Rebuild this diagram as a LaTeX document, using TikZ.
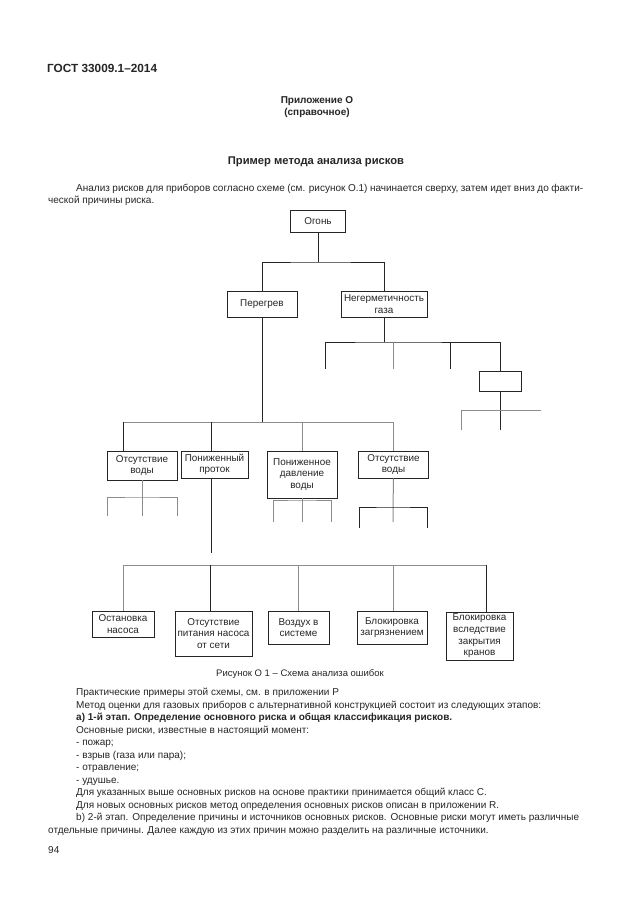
\documentclass[tikz,border=0pt]{standalone}
\usepackage{fontspec}
\setmainfont{Liberation Sans}
\usetikzlibrary{positioning}

\newcommand{\bodyfont}{\fontsize{10}{12.4}\selectfont}
\newcommand{\boxfont}{\fontsize{9.9}{11.6}\selectfont}

\tikzset{
  box/.style={draw=black!85, line width=0.9pt, align=center, inner sep=0pt, font=\boxfont, text=black!85},
  conn/.style={draw=black!85, line width=0.9pt},
  connlight/.style={draw=black!45, line width=1pt},
  txt/.style={anchor=base west, inner sep=0pt, font=\bodyfont, text=black!85}
}

\begin{document}
\begin{tikzpicture}[x=1pt,y=-1pt]
    \useasboundingbox [fill=white] (0,0) rectangle (630,913);
    % page text above the figure
    \node [txt, font=\fontsize{11.8}{14}\selectfont\bfseries] (gost) at (47,72) {ГОСТ 33009.1--2014};
    \node [txt, anchor=base, font=\fontsize{10}{12}\selectfont\bfseries] (annex) at (317,103) {Приложение О};
    \node [txt, anchor=base, font=\fontsize{10}{12}\selectfont\bfseries] (annexsub) at (317,115) {(справочное)};
    \node [txt, anchor=base, font=\fontsize{11.2}{14}\selectfont\bfseries] (title) at (316,164) {Пример метода анализа рисков};
    \node [txt] (intro1) at (76,191) {\makebox[507pt][s]{Анализ рисков для приборов согласно схеме (см. рисунок О.1) начинается сверху, затем идет вниз до факти-}};
    \node [txt] (intro2) at (48,203) {ческой причины риска.};

    % figure: boxes
    \node [box, minimum width=55, minimum height=22] (fire) at (318,221) {Огонь};
    \node [box, minimum width=70, minimum height=26] (heat) at (262,304) {Перегрев};
    \node [box, minimum width=86, minimum height=26] (leak) at (384,304) {Негерметичность\\газа};
    \node [box, minimum width=42, minimum height=20] (blank) at (500,381) {};
    \node [box, minimum width=70, minimum height=29] (dry1) at (142,465.5) {Отсутствие\\воды};
    \node [box, minimum width=67, minimum height=27] (flow) at (214.5,464.5) {Пониженный\\проток};
    \node [box, minimum width=70, minimum height=47] (press) at (302,474.5) {Пониженное\\давление\\воды};
    \node [box, minimum width=70, minimum height=27] (dry2) at (393.5,464.5) {Отсутствие\\воды};
    \node [box, minimum width=62, minimum height=26] (stop) at (123,624) {Остановка\\насоса};
    \node [box, minimum width=77, minimum height=45] (power) at (213.5,633.5) {Отсутствие\\питания насоса\\от сети};
    \node [box, minimum width=61, minimum height=33] (air) at (298.5,627.5) {Воздух в\\системе};
    \node [box, minimum width=70, minimum height=33] (clog) at (392,627.5) {Блокировка\\загрязнением};
    \node [box, minimum width=67, minimum height=48] (valve) at (479.5,636) {Блокировка\\вследствие\\закрытия\\кранов};

    % junctions and free ends
    \coordinate (busA) at (318,262);
    \coordinate (busB) at (384,342);
    \coordinate (s1) at (325,369);
    \coordinate (s2) at (393,369);
    \coordinate (s3) at (450,369);
    \coordinate (t1) at (461,430);
    \coordinate (t2) at (500,430);
    \coordinate (t3) at (541,410);
    \coordinate (busD) at (262,422);
    \coordinate (d1) at (123,422);
    \coordinate (d2) at (211,422);
    \coordinate (d3) at (302,422);
    \coordinate (d4) at (393,422);
    \coordinate (busE) at (142,497);
    \coordinate (e1) at (107,516);
    \coordinate (e2) at (142,516);
    \coordinate (e3) at (177,516);
    \coordinate (f1) at (211,553);
    \coordinate (busP) at (302,500);
    \coordinate (p1) at (273,522);
    \coordinate (p2) at (302,522);
    \coordinate (p3) at (331,522);
    \coordinate (busQ) at (393,507);
    \coordinate (q1) at (359,528);
    \coordinate (q2) at (393,522);
    \coordinate (q3) at (427,528);
    \coordinate (g1) at (123,565);
    \coordinate (g2) at (210,565);
    \coordinate (g3) at (298,565);
    \coordinate (g4) at (393,565);
    \coordinate (g5) at (486,565);

    % connectors
    \draw [conn] (fire) -- (busA);
    \draw [conn] (heat.north) |- (busA) -| (leak.north);
    \draw [conn] (leak) -- (busB);
    \draw [conn] (s1) |- (busB) -| (blank.north);
    \draw [connlight] (s2) -- (s2 |- busB);
    \draw [conn] (s3) -- (s3 |- busB);
    \draw [conn] (blank) -- (t2);
    \draw [connlight] (t1) |- (t3);
    \draw [conn] (heat) -- (busD);
    \draw [connlight] (d1) -- (d4);
    \draw [conn] (d1) -- (d1 |- dry1.north);
    \draw [conn] (d2) -- (d2 |- flow.north);
    \draw [connlight] (d3) -- (press.north);
    \draw [connlight] (d4) -- (d4 |- dry2.north);
    \draw [connlight] (dry1) -- (e2);
    \draw [connlight] (e1) |- (busE) -| (e3);
    \draw [conn] (f1 |- flow.south) -- (f1);
    \draw [connlight] (press) -- (p2);
    \draw [connlight] (p1) |- (busP) -| (p3);
    \draw [connlight] (dry2) -- (q2);
    \draw [conn] (q1) |- (busQ) -| (q3);
    \draw [connlight] (g1) -- (g5);
    \draw [connlight] (g1) -- (g1 |- stop.north);
    \draw [conn] (g2) -- (g2 |- power.north);
    \draw [connlight] (g3) -- (g3 |- air.north);
    \draw [connlight] (g4) -- (g4 |- clog.north);
    \draw [conn] (g5) -- (g5 |- valve.north);

    \node [txt, anchor=base, font=\fontsize{9.5}{12}\selectfont] (caption) at (300,676) {Рисунок О 1 -- Схема анализа ошибок};

    % page text below the figure
    \node [txt] (l1) at (76,695.5) {Практические примеры этой схемы, см. в приложении Р};
    \node [txt] (l2) at (76,708) {Метод оценки для газовых приборов с альтернативной конструкцией состоит из следующих этапов:};
    \node [txt, font=\bodyfont\bfseries] (l3) at (76,720.5) {а) 1-й этап. Определение основного риска и общая классификация рисков.};
    \node [txt] (l4) at (76,733) {Основные риски, известные в настоящий момент:};
    \node [txt] (l5) at (76,745.5) {- пожар;};
    \node [txt] (l6) at (76,758) {- взрыв (газа или пара);};
    \node [txt] (l7) at (76,770.5) {- отравление;};
    \node [txt] (l8) at (76,783) {- удушье.};
    \node [txt] (l9) at (76,795.5) {Для указанных выше основных рисков на основе практики принимается общий класс С.};
    \node [txt] (l10) at (76,808) {Для новых основных рисков метод определения основных рисков описан в приложении R.};
    \node [txt] (l11) at (76,820.5) {\makebox[503pt][s]{b) 2-й этап. Определение причины и источников основных рисков. Основные риски могут иметь различные}};
    \node [txt] (l12) at (48,833) {отдельные причины. Далее каждую из этих причин можно разделить на различные источники.};
    \node [txt] (page) at (48,853) {94};
\end{tikzpicture}
\end{document}
